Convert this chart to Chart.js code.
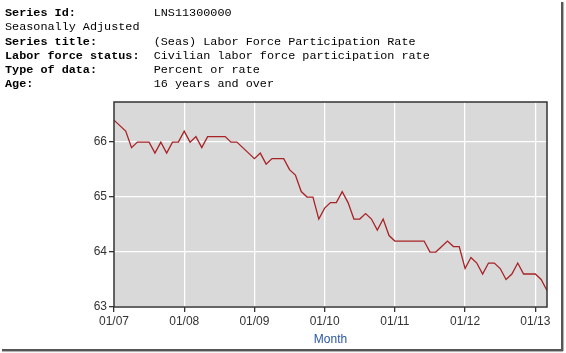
<!DOCTYPE html>
<html>
<head>
<meta charset="utf-8">
<script src="https://cdn.jsdelivr.net/npm/chart.js@4/dist/chart.umd.min.js"></script>
<style>
body { margin:0; background:#fff; }
#wrap { position:relative; width:566px; height:353px; overflow:hidden; }
#chart { position:absolute; left:0; top:0; }
#info { position:absolute; left:5px; top:6px; font-family:"Liberation Mono", monospace; font-size:11.8px; line-height:14.3px; color:#000; white-space:pre; }
#info b { font-weight:bold; }
#edgeR { position:absolute; left:561px; top:2px; width:2px; height:349px; background:#555; box-shadow:1px 0 1px #aaa; }
#edgeB { position:absolute; left:2px; top:349px; width:561px; height:2px; background:#555; box-shadow:0 1px 1px #aaa; }
</style>
</head>
<body>
<div id="wrap">
<canvas id="chart" width="566" height="353"></canvas>
<div id="info"><b>Series Id:</b>           LNS11300000
Seasonally Adjusted
<b>Series title:</b>        (Seas) Labor Force Participation Rate
<b>Labor force status:</b>  Civilian labor force participation rate
<b>Type of data:</b>        Percent or rate
<b>Age:</b>                 16 years and over</div>
<div id="edgeR"></div>
<div id="edgeB"></div>
</div>
<script>
// monthly values, 01/2007 .. 03/2013
var rate2007 = [66.4,66.3,66.2,65.9,66.0,66.0,66.0,65.8,66.0,65.8,66.0,66.0];
var rate2008 = [66.2,66.0,66.1,65.9,66.1,66.1,66.1,66.1,66.0,66.0,65.9,65.8];
var rate2009 = [65.7,65.8,65.6,65.7,65.7,65.7,65.5,65.4,65.1,65.0,65.0,64.6];
var rate2010 = [64.8,64.9,64.9,65.1,64.9,64.6,64.6,64.7,64.6,64.4,64.6,64.3];
var rate2011 = [64.2,64.2,64.2,64.2,64.2,64.2,64.0,64.0,64.1,64.2,64.1,64.1];
var rate2012 = [63.7,63.9,63.8,63.6,63.8,63.8,63.7,63.5,63.6,63.8,63.6,63.6];
var rate2013 = [63.6,63.5,63.3];
var yearLabels = ['01/07','01/08','01/09','01/10','01/11','01/12','01/13'];
var yTicks = [63,64,65,66];

var rates = [].concat(rate2007,rate2008,rate2009,rate2010,rate2011,rate2012,rate2013);
var points = [];
for(var i=0;i<rates.length;i++){
	points.push({x:i, y:rates[i]});
}

var plotBg = {
	id:'plotBg',
	beforeDraw:function(chart){
		var a = chart.chartArea, ctx = chart.ctx;
		ctx.save();
		ctx.fillStyle = '#d9d9d9';
		ctx.fillRect(a.left,a.top,a.right-a.left,a.bottom-a.top);
		ctx.restore();
	},
	afterDraw:function(chart){
		var a = chart.chartArea, ctx = chart.ctx;
		ctx.save();
		ctx.strokeStyle = '#333';
		ctx.lineWidth = 1.5;
		ctx.strokeRect(a.left,a.top,a.right-a.left,a.bottom-a.top);
		ctx.restore();
	}
};

var ctx = document.getElementById('chart').getContext('2d');
new Chart(ctx,{
	type:'line',
	data:{datasets:[{
		data:points,
		borderColor:'#a82226',
		borderWidth:1.3,
		pointRadius:0,
		tension:0,
		fill:false
	}]},
	options:{
		responsive:false,
		animation:false,
		layout:{padding:{top:102,right:19,left:0,bottom:0}},
		plugins:{legend:{display:false},tooltip:{enabled:false}},
		scales:{
			x:{
				type:'linear',
				min:0,
				max:rates.length-1,
				afterBuildTicks:function(scale){
					scale.ticks = yearLabels.map(function(l,i){ return {value:i*12}; });
				},
				afterFit:function(scale){ scale.height = 46; },
				ticks:{
					autoSkip:false,
					maxRotation:0,
					padding:2,
					color:'#333',
					font:{family:'Arial, "Liberation Sans"',size:12},
					callback:function(v){ return yearLabels[v/12]; }
				},
				grid:{color:'#fff',lineWidth:1.3,tickColor:'#333',tickLength:5},
				border:{display:false},
				title:{display:true,text:'Month',color:'#2a55a8',font:{family:'Arial, "Liberation Sans"',size:12},padding:{top:0,bottom:6}}
			},
			y:{
				min:63,
				max:66.73,
				afterBuildTicks:function(scale){
					scale.ticks = yTicks.map(function(v){ return {value:v}; });
				},
				afterFit:function(scale){ scale.width = 114; },
				ticks:{
					padding:2,
					color:'#333',
					font:{family:'Arial, "Liberation Sans"',size:12}
				},
				grid:{color:'#fff',lineWidth:1.3,tickColor:'#333',tickLength:5},
				border:{display:false}
			}
		}
	},
	plugins:[plotBg]
});
</script>
</body>
</html>
